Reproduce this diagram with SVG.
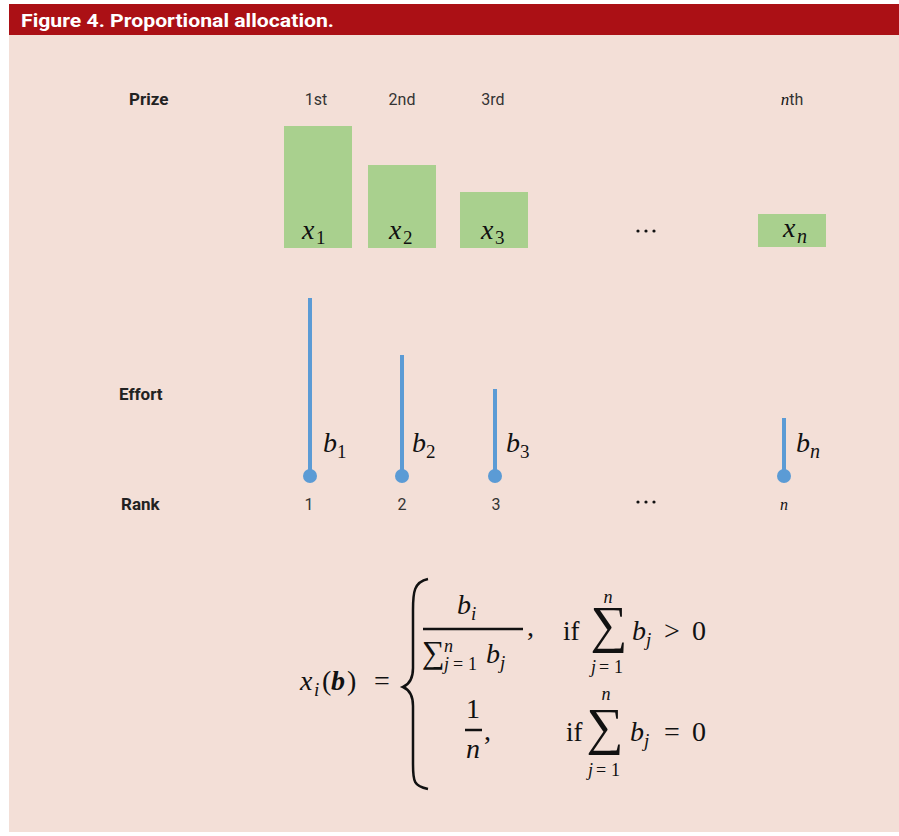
<svg xmlns="http://www.w3.org/2000/svg" width="899" height="836" viewBox="0 0 899 836">
<style>
.lbl{font-family:Roboto,"Liberation Sans",sans-serif;font-size:16px;fill:#333;}
.hd{font-family:Roboto,"Liberation Sans",sans-serif;font-size:17px;font-weight:bold;fill:#222;}
.m{font-family:"Liberation Serif","DejaVu Serif",serif;font-style:italic;fill:#111;}
.r{font-family:"Liberation Serif","DejaVu Serif",serif;font-style:normal;fill:#111;}
.bar{fill:#a9d08e;}
.eff{stroke:#5b9bd5;stroke-width:4;}
.dot{fill:#5b9bd5;}
.dots{fill:#111;}
</style>
<rect x="9" y="4" width="890" height="828" fill="#f3dfd7"/>
<rect x="9" y="4" width="890" height="31" fill="#ab1015"/>
<text x="21" y="27" font-family="Roboto,'Liberation Sans',sans-serif" font-size="19" font-weight="bold" fill="#fff" textLength="313" lengthAdjust="spacingAndGlyphs">Figure 4. Proportional allocation.</text>

<g id="row-labels">
<text class="hd" x="129" y="105">Prize</text>
<text class="hd" x="119" y="400">Effort</text>
<text class="hd" x="121" y="510">Rank</text>
</g>

<g id="prize-1">
<text class="lbl" x="316" y="105" text-anchor="middle">1st</text>
<rect class="bar" x="284" y="126" width="68" height="122"/>
<text class="m" x="302" y="239" font-size="28">x</text><text class="r" x="316" y="244" font-size="19">1</text>
</g>
<g id="prize-2">
<text class="lbl" x="402" y="105" text-anchor="middle">2nd</text>
<rect class="bar" x="368" y="165" width="68" height="83"/>
<text class="m" x="389" y="239" font-size="28">x</text><text class="r" x="403" y="244" font-size="19">2</text>
</g>
<g id="prize-3">
<text class="lbl" x="493" y="105" text-anchor="middle">3rd</text>
<rect class="bar" x="460" y="192" width="68" height="56"/>
<text class="m" x="481" y="239" font-size="28">x</text><text class="r" x="495" y="244" font-size="19">3</text>
</g>
<g id="prize-dots" class="dots">
<circle cx="638" cy="231" r="1.6"/><circle cx="646" cy="231" r="1.6"/><circle cx="654" cy="231" r="1.6"/>
</g>
<g id="prize-n">
<text class="lbl" x="792" y="105" text-anchor="middle"><tspan class="m" font-size="17" fill="#444">n</tspan>th</text>
<rect class="bar" x="758" y="214" width="68" height="33"/>
<text class="m" x="783" y="237" font-size="28">x</text><text class="m" x="797" y="243" font-size="20">n</text>
</g>

<g id="connectors">
<line class="eff" x1="310" y1="298" x2="310" y2="472"/>
<line class="eff" x1="402" y1="355" x2="402" y2="472"/>
<line class="eff" x1="495" y1="389" x2="495" y2="472"/>
<line class="eff" x1="784" y1="418" x2="784" y2="472"/>
</g>

<g id="effort-1">
<circle class="dot" cx="310" cy="476" r="7"/>
<text class="m" x="323" y="452" font-size="28">b</text><text class="r" x="337" y="458" font-size="19">1</text>
<text class="lbl" x="309" y="510" text-anchor="middle">1</text>
</g>
<g id="effort-2">
<circle class="dot" cx="402" cy="476" r="7"/>
<text class="m" x="412" y="452" font-size="28">b</text><text class="r" x="426" y="458" font-size="19">2</text>
<text class="lbl" x="402" y="510" text-anchor="middle">2</text>
</g>
<g id="effort-3">
<circle class="dot" cx="495" cy="476" r="7"/>
<text class="m" x="506" y="452" font-size="28">b</text><text class="r" x="520" y="458" font-size="19">3</text>
<text class="lbl" x="496" y="510" text-anchor="middle">3</text>
</g>
<g id="rank-dots" class="dots">
<circle cx="638" cy="502" r="1.6"/><circle cx="646" cy="502" r="1.6"/><circle cx="654" cy="502" r="1.6"/>
</g>
<g id="effort-n">
<circle class="dot" cx="784" cy="476" r="7"/>
<text class="m" x="796" y="452" font-size="28">b</text><text class="m" x="810" y="458" font-size="20">n</text>
<text class="m" x="784" y="510" font-size="16" fill="#444" text-anchor="middle">n</text>
</g>

<g id="formula">
<text class="m" x="300" y="690" font-size="28">x</text>
<text class="m" x="314" y="696" font-size="19">i</text>
<text class="r" x="322" y="690" font-size="28">(</text>
<text class="m" x="331" y="690" font-size="28" font-weight="bold">b</text>
<text class="r" x="347" y="690" font-size="28">)</text>
<text class="r" x="374" y="690" font-size="28">=</text>
<path d="M428,579 C414,582 413,592 413,610 L413,668 C413,678 410,684 403,687 C410,690 413,696 413,706 L413,764 C413,782 414,786 428,789" fill="none" stroke="#111" stroke-width="2.5"/>

<text class="m" x="457" y="614" font-size="28">b</text>
<text class="m" x="471" y="620" font-size="19">i</text>
<line x1="423" y1="629" x2="523" y2="629" stroke="#111" stroke-width="2.5"/>
<text class="r" x="422" y="663" font-size="32">∑</text>
<text class="m" x="444" y="652" font-size="18">n</text>
<text class="m" x="444" y="670" font-size="18">j</text>
<text class="r" x="453" y="670" font-size="18">=</text>
<text class="r" x="468" y="670" font-size="18">1</text>
<text class="m" x="486" y="663" font-size="28">b</text>
<text class="m" x="500" y="669" font-size="19">j</text>
<text class="r" x="527" y="636" font-size="28">,</text>

<text class="r" x="563" y="640" font-size="27">if</text>
<text class="r" x="609" y="642" font-size="52" text-anchor="middle">∑</text>
<text class="m" x="608" y="603" font-size="18" text-anchor="middle">n</text>
<text class="m" x="591" y="673" font-size="18">j</text>
<text class="r" x="599" y="673" font-size="18">=</text>
<text class="r" x="614" y="673" font-size="18">1</text>
<text class="m" x="632" y="640" font-size="28">b</text>
<text class="m" x="646" y="646" font-size="19">j</text>
<text class="r" x="664" y="640" font-size="28">&gt;</text>
<text class="r" x="692" y="640" font-size="28">0</text>

<text class="r" x="473" y="718" font-size="28" text-anchor="middle">1</text>
<line x1="465" y1="730" x2="482" y2="730" stroke="#111" stroke-width="2.5"/>
<text class="m" x="473" y="758" font-size="28" text-anchor="middle">n</text>
<text class="r" x="484" y="740" font-size="28">,</text>

<text class="r" x="566" y="741" font-size="27">if</text>
<text class="r" x="605" y="744" font-size="52" text-anchor="middle">∑</text>
<text class="m" x="606" y="700" font-size="18" text-anchor="middle">n</text>
<text class="m" x="588" y="776" font-size="18">j</text>
<text class="r" x="596" y="776" font-size="18">=</text>
<text class="r" x="611" y="776" font-size="18">1</text>
<text class="m" x="630" y="741" font-size="28">b</text>
<text class="m" x="644" y="747" font-size="19">j</text>
<text class="r" x="664" y="741" font-size="28">=</text>
<text class="r" x="692" y="741" font-size="28">0</text>
</g>
</svg>
